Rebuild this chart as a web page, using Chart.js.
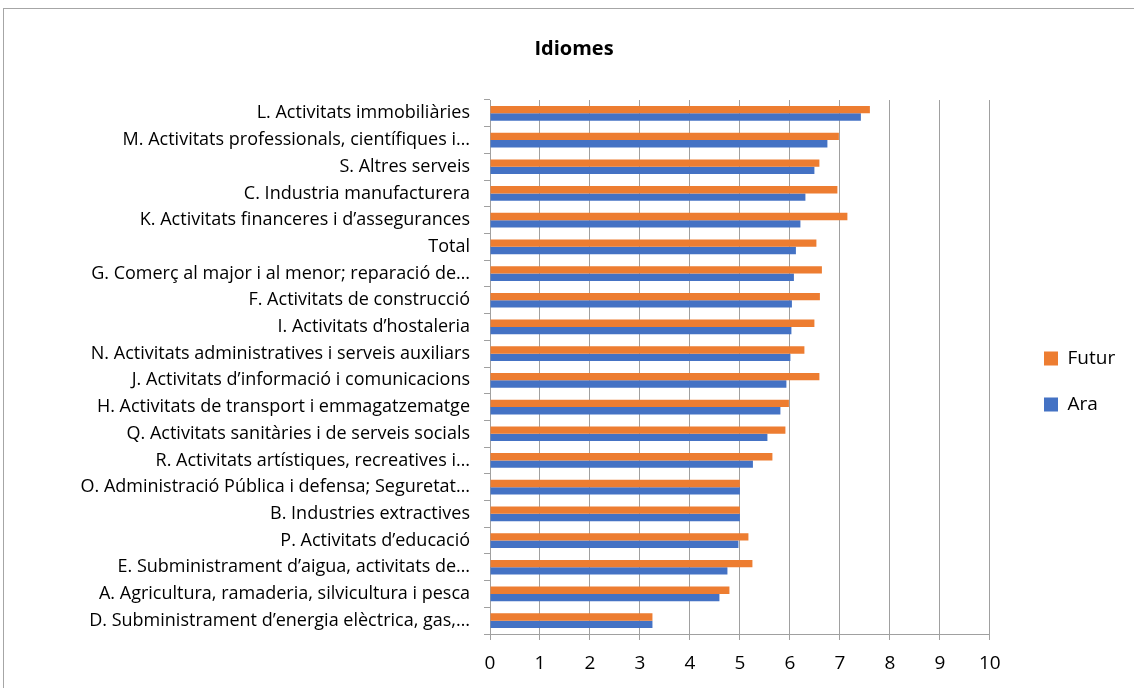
<!DOCTYPE html>
<html>
<head>
<meta charset="utf-8">
<script src="https://cdn.jsdelivr.net/npm/chart.js@4"></script>
<style>
  body { margin: 0; background: #fff; }
  canvas { display: block; }
</style>
</head>
<body>
<canvas id="myChart" width="1134" height="688"></canvas>
<script>
// categories, top to bottom
const sectors = [
    "L. Activitats immobiliàries",
    "M. Activitats professionals, científiques i…",
    "S. Altres serveis",
    "C. Industria manufacturera",
    "K. Activitats financeres i d’assegurances",
    "Total",
    "G. Comerç al major i al menor; reparació de…",
    "F. Activitats de construcció",
    "I. Activitats d’hostaleria",
    "N. Activitats administratives i serveis auxiliars",
    "J. Activitats d’informació i comunicacions",
    "H. Activitats de transport i emmagatzematge",
    "Q. Activitats sanitàries i de serveis socials",
    "R. Activitats artístiques, recreatives i…",
    "O. Administració Pública i defensa; Seguretat…",
    "B. Industries extractives",
    "P. Activitats d’educació",
    "E. Subministrament d’aigua, activitats de…",
    "A. Agricultura, ramaderia, silvicultura i pesca",
    "D. Subministrament d’energia elèctrica, gas,…"
];

const futur = [7.60, 6.98, 6.59, 6.95, 7.15, 6.53, 6.64, 6.60, 6.49, 6.29,
               6.59, 5.98, 5.91, 5.65, 5.00, 5.00, 5.17, 5.25, 4.79, 3.25];
const ara = [7.42, 6.75, 6.49, 6.31, 6.21, 6.12, 6.08, 6.04, 6.03, 6.01,
             5.93, 5.81, 5.55, 5.26, 5.00, 5.00, 4.97, 4.75, 4.59, 3.25];

const xTicks = [0, 1, 2, 3, 4, 5, 6, 7, 8, 9, 10];

const fontName = "'Open Sans', 'Liberation Sans', sans-serif";

// grey frame around the whole chart
const framePlugin = {
    id: "frame",
    beforeDraw(chart) {
        const c = chart.ctx;
        c.save();
        c.fillStyle = "#fff";
        c.fillRect(0, 0, chart.width, chart.height);
        c.strokeStyle = "#a6a6a6";
        c.lineWidth = 1;
        c.strokeRect(3.5, 8.5, chart.width + 10, chart.height + 10);
        c.restore();
    }
};

// move the legend block so its first box sits where Excel put it
const legendSpot = {
    id: "legendSpot",
    afterUpdate(chart) {
        const lg = chart.legend;
        if (!lg || !lg.legendHitBoxes.length)
            return;
        const hb = lg.legendHitBoxes[0];
        const dx = 1044 - hb.left;
        const dy = 349 - hb.top;
        lg.left += dx;
        lg.right += dx;
        lg.top += dy;
        lg.bottom += dy;
    }
};

const ctx = document.getElementById("myChart");

new Chart(ctx, {
    type: "bar",
    data: {
        labels: sectors,
        datasets: [{
                label: "Futur",
                data: futur,
                backgroundColor: "#ED7D31",
                barPercentage: 1,
                categoryPercentage: 0.55
            }, {
                label: "Ara",
                data: ara,
                backgroundColor: "#4472C4",
                barPercentage: 1,
                categoryPercentage: 0.55
            }]
    },
    options: {
        indexAxis: "y",
        responsive: false,
        animation: false,
        layout: {
            padding: {left: 50, right: 36, top: 0, bottom: 0}
        },
        plugins: {
            title: {
                display: true,
                text: "Idiomes",
                color: "#000",
                font: {family: fontName, size: 20, weight: "bold"},
                padding: {top: 37, bottom: 39}
            },
            legend: {
                position: "right",
                labels: {
                    color: "#000",
                    font: {family: fontName, size: 19},
                    boxWidth: 14,
                    boxHeight: 14,
                    padding: 27
                }
            },
            tooltip: {enabled: false}
        },
        scales: {
            x: {
                min: 0,
                max: 10,
                afterBuildTicks: (scale) => {
                    scale.ticks = xTicks.map(v => ({value: v}));
                },
                afterFit: (scale) => {
                    scale.height = 54;
                },
                grid: {
                    color: "#a0a0a0",
                    tickLength: 6
                },
                border: {color: "#a0a0a0"},
                ticks: {
                    color: "#000",
                    padding: 12,
                    font: {family: fontName, size: 19}
                }
            },
            y: {
                afterFit: (scale) => {
                    scale.width = 440;
                },
                grid: {
                    offset: true,
                    drawOnChartArea: false,
                    color: "#a0a0a0",
                    tickLength: 6
                },
                border: {color: "#a0a0a0"},
                ticks: {
                    color: "#000",
                    padding: 14,
                    autoSkip: false,
                    font: {family: fontName, size: 18}
                }
            }
        }
    },
    plugins: [framePlugin, legendSpot]
});
</script>
</body>
</html>
